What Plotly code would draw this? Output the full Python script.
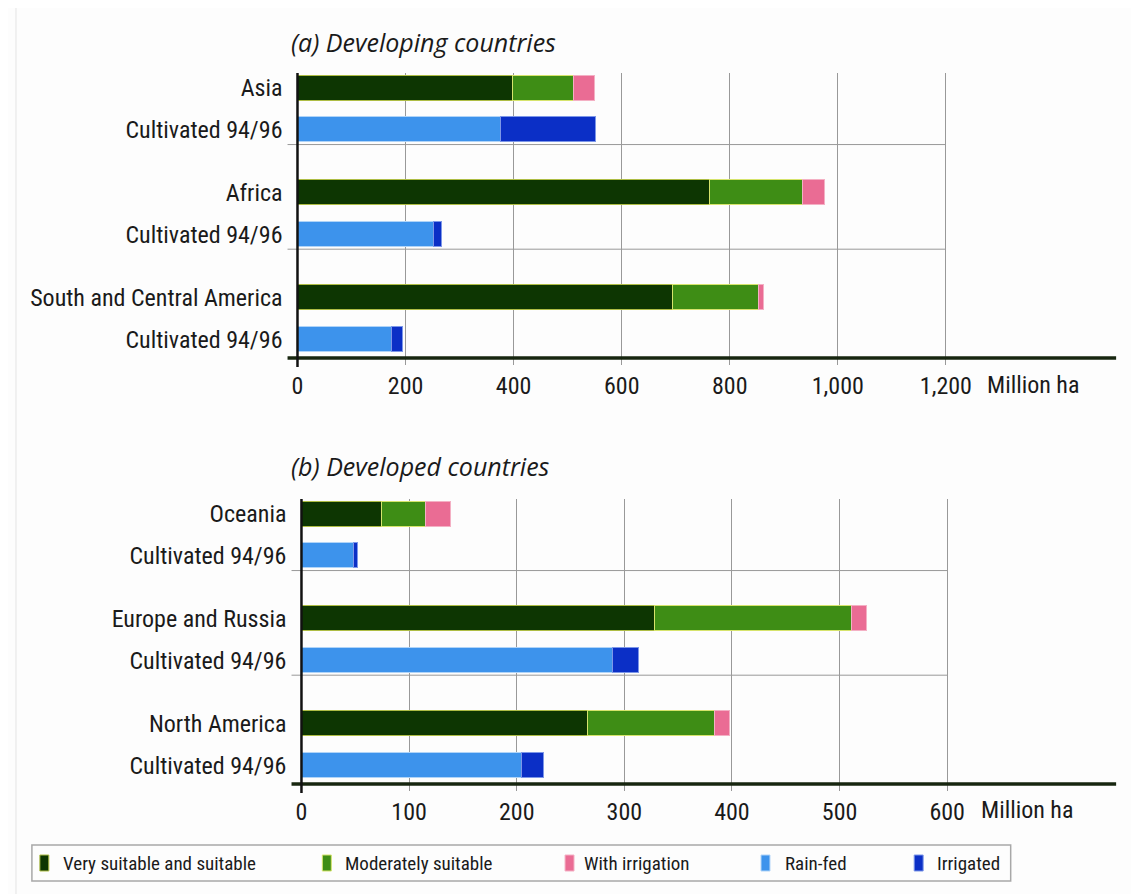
import plotly.graph_objects as go

# ---------------- data ----------------
dev_regions = ["Asia", "Africa", "South and Central America"]
dev_very_suitable = [400, 765, 696]
dev_moderately = [112, 172, 159]
dev_with_irrigation = [40, 40, 10]
dev_rainfed = [377, 253, 175]
dev_irrigated = [176, 16, 21]

ind_regions = ["Oceania", "Europe and Russia", "North America"]
ind_very_suitable = [75, 329, 267]
ind_moderately = [41, 183, 118]
ind_with_irrigation = [23, 14, 14]
ind_rainfed = [49, 290, 205]
ind_irrigated = [4, 24, 21]

cultivated_label = "Cultivated 94/96"
series_names = ["Very suitable and suitable", "Moderately suitable",
                "With irrigation", "Rain-fed", "Irrigated"]
dev_ticks = [0, 200, 400, 600, 800, 1000, 1200]
ind_ticks = [0, 100, 200, 300, 400, 500, 600]
unit_label = "Million ha"
panel_titles = ["(a) Developing countries", "(b) Developed countries"]

# ---------------- style ----------------
OFF = 8                      # default page margin of the html body
W, H = 1139 - OFF, 894 - OFF
colors = ["#0d3602", "#3e8d15", "#ea6c94", "#3d93ec", "#0b2fc6"]
edge = ["#aebd45", "#d6e46c", "#f4b0c4", "#b0d4f8", "#7d97e8"]
FONT = "Liberation Sans Narrow, Arial Narrow, Roboto Condensed, Roboto, sans-serif"
TFONT = "Open Sans, Noto Sans, sans-serif"


def px_x(p):
    return (p - OFF) / W


def px_y(p):
    return 1 - (p - OFF) / H


panels = [
    dict(regions=dev_regions, vals=[dev_very_suitable, dev_moderately, dev_with_irrigation,
                                    dev_rainfed, dev_irrigated],
         ticks=dev_ticks, left=293, right=1116, top=73, bottom=358, xend=1200, rng=1515,
         title=panel_titles[0], title_y=42, label_y=385, unit_shift=39),
    dict(regions=ind_regions, vals=[ind_very_suitable, ind_moderately, ind_with_irrigation,
                                    ind_rainfed, ind_irrigated],
         ticks=ind_ticks, left=297, right=1116, top=499, bottom=784, xend=600, rng=757,
         title=panel_titles[1], title_y=466, label_y=810, unit_shift=32),
]

fig = go.Figure()
shapes = []
annotations = []
YR = [6.45, -0.36]

for k, p in enumerate(panels):
    ax = "" if k == 0 else str(k + 1)
    n = len(p["regions"])
    suit_rows = [2.5 * i for i in range(n)]
    cult_rows = [2.5 * i + 1 for i in range(n)]
    for s in range(5):
        rows = suit_rows if s < 3 else cult_rows
        fig.add_trace(go.Bar(
            x=p["vals"][s], y=rows, orientation="h", name=series_names[s],
            width=0.6, marker=dict(color=colors[s], line=dict(color=edge[s], width=1)),
            showlegend=False, xaxis="x" + ax, yaxis="y" + ax, hoverinfo="x+name"))

    tickvals, ticktext = [], []
    for i, r in enumerate(p["regions"]):
        tickvals += [suit_rows[i], cult_rows[i]]
        ticktext += [r, cultivated_label]

    dom_x = [px_x(p["left"]), px_x(p["right"])]
    dom_y = [px_y(p["bottom"]), px_y(p["top"])]
    fig.update_layout(**{
        "xaxis" + ax: dict(domain=dom_x, range=[0, p["rng"]], anchor="y" + ax,
                           tickvals=p["ticks"], ticktext=[f"{v:,}" for v in p["ticks"]],
                           showgrid=True, gridcolor="#999999", gridwidth=1,
                           ticks="outside", ticklen=6, tickcolor="#999999",
                           zeroline=False, showline=False,
                           tickfont=dict(family=FONT, size=24, color="#1a1a1a"),
                           ticklabelstandoff=0, fixedrange=True),
        "yaxis" + ax: dict(domain=dom_y, range=YR, anchor="x" + ax,
                           tickvals=tickvals, ticktext=ticktext,
                           showgrid=False, zeroline=False, showline=False, ticks="",
                           tickfont=dict(family=FONT, size=24, color="#1a1a1a"),
                           ticklabelstandoff=14, fixedrange=True),
    })

    # group separators (end at the last gridline)
    x_left = px_x(p["left"] - 10)
    x_end = dom_x[0] + p["xend"] / p["rng"] * (dom_x[1] - dom_x[0])
    for sy in [1.35, 3.85]:
        shapes.append(dict(type="line", xref="paper", yref="y" + ax, x0=x_left, x1=x_end,
                           y0=sy, y1=sy, line=dict(color="#999999", width=1), layer="below"))
    # axis lines
    shapes.append(dict(type="line", xref="paper", yref="paper",
                       x0=px_x(p["left"] - 10), x1=dom_x[1], y0=dom_y[0], y1=dom_y[0],
                       line=dict(color="#17260f", width=3.5), layer="above"))
    shapes.append(dict(type="line", xref="paper", yref="paper",
                       x0=dom_x[0], x1=dom_x[0], y0=px_y(p["bottom"] + 9), y1=dom_y[1],
                       line=dict(color="#111111", width=2.5), layer="above"))

    annotations.append(dict(text=p["title"], xref="paper", yref="paper",
                            x=px_x(284), y=px_y(p["title_y"]), xanchor="left", yanchor="middle",
                            showarrow=False,
                            font=dict(family=TFONT, size=25, style="italic", color="#1a1a1a")))
    annotations.append(dict(text=unit_label, xref="x" + ax, yref="paper",
                            x=p["ticks"][-1], y=px_y(p["label_y"]), xanchor="left",
                            yanchor="middle", xshift=p["unit_shift"], showarrow=False,
                            font=dict(family=FONT, size=24, color="#1a1a1a")))

# ---------------- legend (drawn manually) ----------------
leg_icon_x = [34, 318, 562, 759, 913]
leg_text_x = [55, 339, 579, 781, 934]
leg_y = 863
shapes.append(dict(type="rect", xref="paper", yref="paper",
                   x0=px_x(26), x1=px_x(1010), y0=px_y(881), y1=px_y(845),
                   line=dict(color="#a8a8a8", width=1.5), fillcolor="rgba(0,0,0,0)"))
for s in range(5):
    shapes.append(dict(type="rect", xref="paper", yref="paper",
                       x0=px_x(leg_icon_x[s]), x1=px_x(leg_icon_x[s] + 9),
                       y0=px_y(leg_y + 8), y1=px_y(leg_y - 8),
                       line=dict(color=edge[s], width=1), fillcolor=colors[s]))
    annotations.append(dict(text=series_names[s], xref="paper", yref="paper",
                            x=px_x(leg_text_x[s]), y=px_y(leg_y), xanchor="left",
                            yanchor="middle", showarrow=False,
                            font=dict(family=FONT, size=19, color="#1a1a1a")))

# faint page edge of the scan
shapes.append(dict(type="line", xref="paper", yref="paper", x0=px_x(10), x1=px_x(10),
                   y0=0, y1=1, line=dict(color="#e4e4e4", width=1), layer="below"))

fig.update_layout(width=W, height=H, margin=dict(l=0, r=0, t=0, b=0),
                  barmode="stack", bargap=0, showlegend=False,
                  paper_bgcolor="#fdfdfd", plot_bgcolor="rgba(0,0,0,0)",
                  shapes=shapes, annotations=annotations)

fig.write_html("out.html")
